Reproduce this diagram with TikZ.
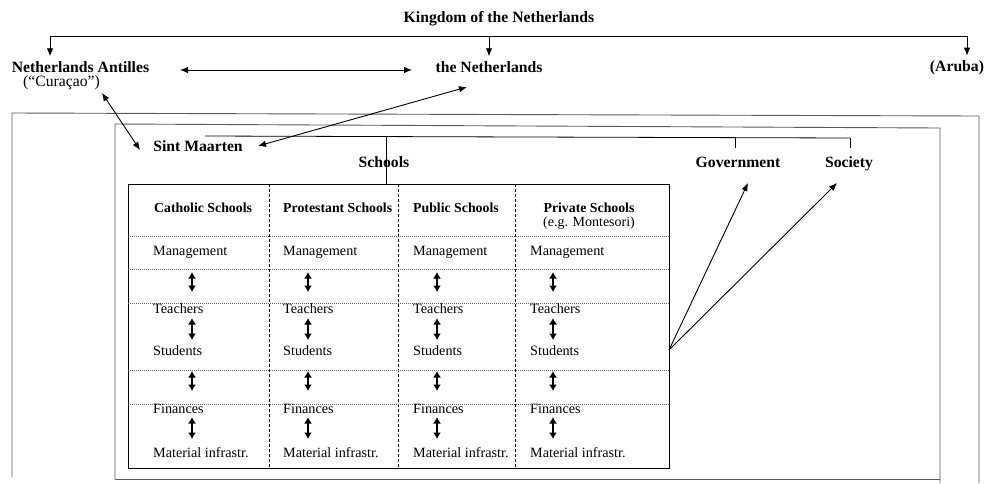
\documentclass[tikz,border=0pt]{standalone}
\usepackage{fontspec}
\setmainfont{Liberation Serif}
\usetikzlibrary{arrows.meta}
\begin{document}
\begin{tikzpicture}[x=1pt,y=-1pt,
  lbl/.style={font=\fontsize{15.7}{18}\selectfont\bfseries, inner sep=0pt},
  sub/.style={font=\fontsize{15.7}{18}\selectfont, inner sep=0pt},
  hd/.style={font=\fontsize{13.8}{16}\selectfont\bfseries, inner sep=0pt},
  hdsub/.style={font=\fontsize{14}{16}\selectfont, inner sep=0pt},
  cell/.style={font=\fontsize{14.2}{16}\selectfont, inner sep=0pt, anchor=west},
  conn/.style={line width=0.9pt, -{Latex[length=8pt,width=6.5pt]}},
  dconn/.style={line width=0.9pt, {Latex[length=8pt,width=6.5pt]}-{Latex[length=8pt,width=6.5pt]}},
  tarr/.style={line width=1.6pt, {Latex[length=6.5pt,width=8pt]}-{Latex[length=6.5pt,width=8pt]}},
  frame/.style={line width=0.9pt, draw=black!65},
  plain/.style={line width=0.8pt},
  coldiv/.style={line width=0.7pt, dash pattern=on 3pt off 2pt},
  rowdiv/.style={line width=0.6pt, draw=black!60, dash pattern=on 1pt off 1pt},
  ]
\useasboundingbox (0,0) rectangle (990,483);

% ---------- top level ----------
\node[lbl] (kingdom) at (499,19) {Kingdom of the Netherlands};
\node[lbl] (antilles) at (80.5,67) {Netherlands Antilles};
\node[sub] (curacao) at (61.5,83) {(“Curaçao”)};
\node[lbl] (nl) at (489,67) {the Netherlands};
\node[lbl] (aruba) at (957,68) {(Aruba)};

\coordinate (kl) at (50,36);
\coordinate (km) at (489,36);
\coordinate (kr) at (967,36);
\draw[plain] (kl) -- (kr);
\draw[conn] (kl) -- ([yshift=5pt]kl |- antilles.north);
\draw[conn] (km) -- ([yshift=5pt]nl.north);
\draw[conn] (kr) -- ([yshift=5pt]kr |- aruba.north);

\coordinate (ha) at (180,70);
\coordinate (hb) at (412,70);
\draw[dconn] (ha) -- (hb);

% ---------- frames ----------
\draw[frame] (12,477) -- (12,113) -- (979,116) -- (979,483);
\draw[frame] (115,479) -- (115,124) -- (940,128) -- (940,483);
\draw[frame] (115,479) -- (940,479);

% ---------- Sint Maarten level ----------
\node[lbl] (sm) at (198,146) {Sint Maarten};
\node[lbl] (schools) at (384,162) {Schools};
\node[lbl, anchor=base] (gov) at (738,167.3) {Government};
\node[lbl, anchor=base] (soc) at (849,167.3) {Society};

\coordinate (c1) at (102,93);
\coordinate (c2) at (140,150);
\draw[dconn] (c1) -- (c2);
\coordinate (n1) at (467,87);
\coordinate (n2) at (258,146);
\draw[dconn] (n1) -- (n2);

\draw[plain] (205,136) -- (850,138);
\draw[plain] (735,137.4) -- (735,148);
\draw[plain] (850,138) -- (850,148);
\draw[plain] (386,136.5) -- (386,184);

% ---------- table ----------
\draw[line width=0.9pt] (128,184) rectangle (669,468);
\foreach \cx in {269,398,515}
  \draw[coldiv] (\cx,184) -- (\cx,468);
\foreach \ry in {236,269,303,370,404}
  \draw[rowdiv] (128,\ry) -- (669,\ry);

\node[hd, anchor=west] (h1) at (154,208) {Catholic Schools};
\node[hd, anchor=west] (h2) at (283,208) {Protestant Schools};
\node[hd, anchor=west] (h3) at (413,208) {Public Schools};
\node[hd] (h4) at (589,208) {Private Schools};
\node[hdsub] (h4b) at (589,223) {(e.g. Montesori)};

\foreach \i/\tx/\ax in {1/153/192, 2/283/308, 3/413/437, 4/530/553} {
  \node[cell] (m\i) at (\tx,252) {Management};
  \node[cell] (t\i) at (\tx,309) {Teachers};
  \node[cell] (s\i) at (\tx,351) {Students};
  \node[cell] (f\i) at (\tx,409) {Finances};
  \node[cell] (mi\i) at (\tx,453) {Material infrastr.};
  \draw[tarr] (\ax,272) -- (\ax,292);
  \draw[tarr] (\ax,318) -- (\ax,340);
  \draw[tarr] (\ax,371) -- (\ax,391);
  \draw[tarr] (\ax,417) -- (\ax,439);
}

\coordinate (src) at (669,350);
\coordinate (gtip) at (748,183);
\coordinate (stip) at (837,183);
\draw[conn] (src) -- (gtip);
\draw[conn] (src) -- (stip);
\end{tikzpicture}
\end{document}
